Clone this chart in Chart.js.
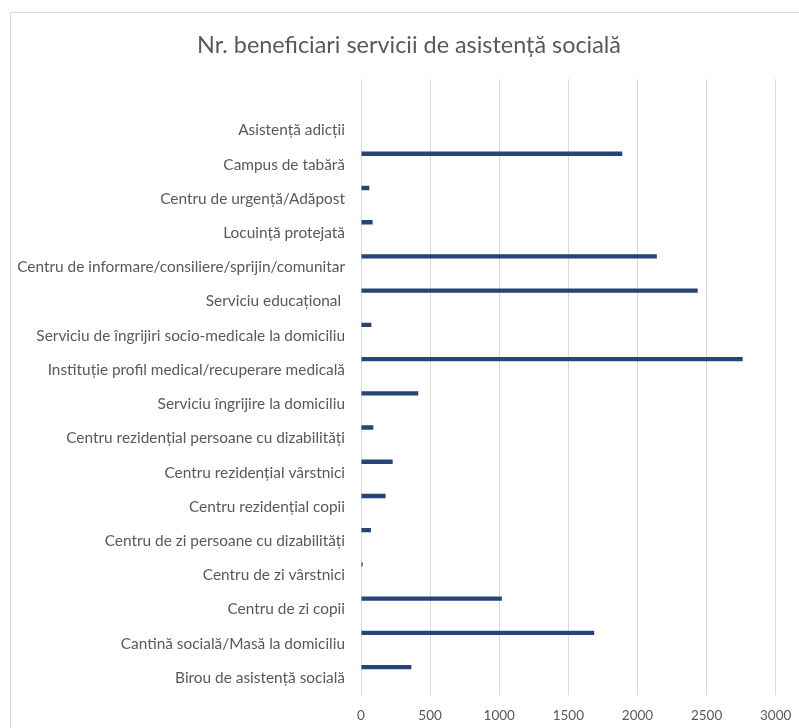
<!DOCTYPE html>
<html>
<head>
<meta charset="utf-8">
<script src="https://cdn.jsdelivr.net/npm/chart.js@4.4.1/dist/chart.umd.min.js"></script>
<style>
  html, body { margin: 0; padding: 0; background: #fff; overflow: hidden; }
  #frame { position: absolute; left: 10px; top: 12px; width: 900px; height: 900px; border: 1px solid #d9d9d9; }
  #wrap { position: absolute; left: 0; top: 0; width: 799px; height: 728px; }
</style>
</head>
<body>
<div id="frame"></div>
<div id="wrap"><canvas id="chart"></canvas></div>
<script>
  // categorii, de sus in jos (prima e goala, ca in Excel)
  const categories = [
    '',
    'Asistență adicții',
    'Campus de tabără',
    'Centru de urgență/Adăpost',
    'Locuință protejată',
    'Centru de informare/consiliere/sprijin/comunitar',
    'Serviciu educațional ',
    'Serviciu de îngrijiri socio-medicale la domiciliu',
    'Instituție profil medical/recuperare medicală',
    'Serviciu îngrijire la domiciliu',
    'Centru rezidențial persoane cu dizabilități',
    'Centru rezidențial vârstnici',
    'Centru rezidențial copii',
    'Centru de zi persoane cu dizabilități',
    'Centru de zi vârstnici',
    'Centru de zi copii',
    'Cantină socială/Masă la domiciliu',
    'Birou de asistență socială'
  ];
  const beneficiari = [null, 0, 1890, 60, 84, 2140, 2436, 75, 2761, 414, 89, 229, 178, 72, 12, 1019, 1687, 364];
  const xTicks = [0, 500, 1000, 1500, 2000, 2500, 3000];

  const grey = '#595959';
  const font = 'Lato';

  // seriile goale tin bara sus in banda, ca in original
  const empty = categories.map(() => null);
  const datasets = [{ data: beneficiari, backgroundColor: '#264478', borderWidth: 0 }];
  for (let i = 0; i < 5; i++) datasets.push({ data: empty, backgroundColor: '#264478' });

  // titlul centrat pe cadru (~x 409), nu pe zona graficului
  const centerTitle = {
    id: 'centerTitle',
    afterLayout(chart) {
      const tb = chart.titleBlock;
      if (tb) tb.left = 2 * 409 - tb.right;
    }
  };

  new Chart(document.getElementById('chart'), {
    type: 'bar',
    data: { labels: categories, datasets },
    plugins: [centerTitle],
    options: {
      indexAxis: 'y',
      responsive: true,
      maintainAspectRatio: false,
      animation: false,
      categoryPercentage: 0.76,
      barPercentage: 1,
      layout: { padding: { left: 0, right: 23.3, top: 0, bottom: 0 } },
      plugins: {
        legend: { display: false },
        tooltip: { enabled: false },
        title: {
          display: true,
          text: 'Nr. beneficiari servicii de asistență socială',
          color: grey,
          font: { family: font, size: 23.4, weight: 'normal' },
          padding: { top: 31, bottom: 20 }
        }
      },
      scales: {
        x: {
          min: 0, max: 3000,
          afterBuildTicks: s => { s.ticks = xTicks.map(v => ({ value: v })); },
          afterFit: s => { s.height = 33; s.paddingLeft = 0; s.paddingRight = 0; },
          border: { display: false },
          grid: { color: '#d9d9d9', lineWidth: 1, drawTicks: false },
          ticks: { color: grey, font: { family: font, size: 13.5 }, padding: 13, callback: v => String(v) }
        },
        y: {
          afterFit: s => { s.width = 361; },
          border: { display: false },
          grid: { display: false, drawTicks: false },
          ticks: { color: grey, font: { family: font, size: 15.4 }, padding: 16, autoSkip: false }
        }
      }
    }
  });
</script>
</body>
</html>
